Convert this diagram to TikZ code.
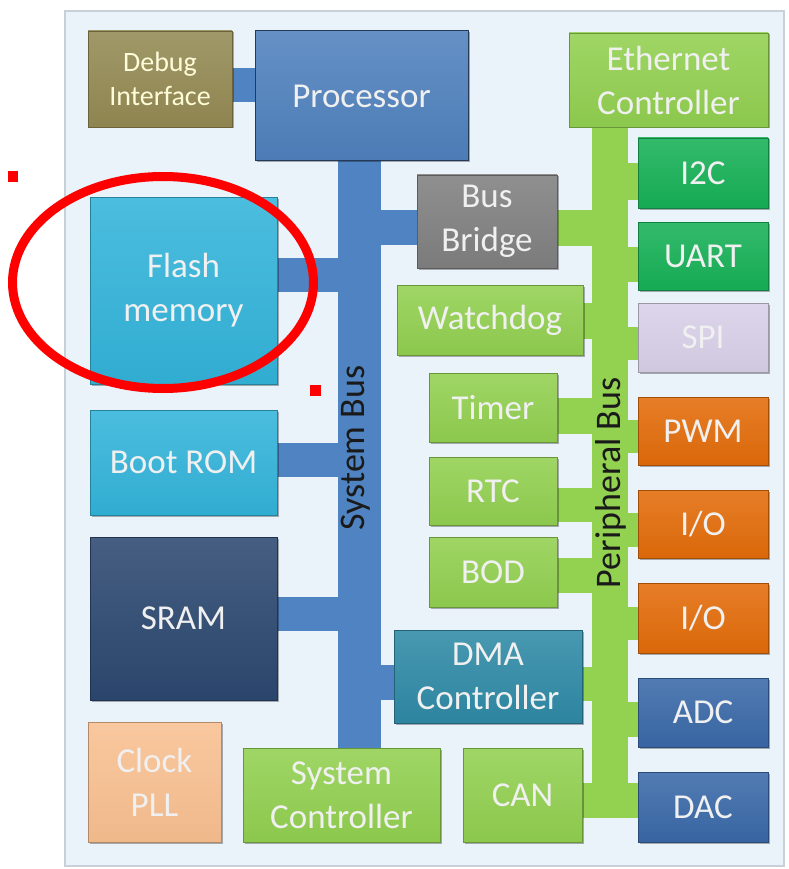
\documentclass[tikz,border=0pt]{standalone}
\usepackage{fontspec}
\setmainfont{Carlito}
\usetikzlibrary{shadows,backgrounds}
\definecolor{panel}{HTML}{EAF2FA}
\definecolor{panelline}{HTML}{C9D0D8}
\definecolor{busblue}{HTML}{5083C1}
\definecolor{busgreen}{HTML}{93D151}
\definecolor{procc}{HTML}{4F81BD}
\definecolor{debugc}{HTML}{948A54}
\definecolor{flashc}{HTML}{33B4DA}
\definecolor{sramc}{HTML}{2C4870}
\definecolor{clockc}{HTML}{F9C091}
\definecolor{greenc}{HTML}{92D050}
\definecolor{darkgreenc}{HTML}{17B157}
\definecolor{greyc}{HTML}{808080}
\definecolor{spic}{HTML}{D8D0E8}
\definecolor{orangec}{HTML}{E36C0A}
\definecolor{adcc}{HTML}{3A69A8}
\definecolor{dmac}{HTML}{2F8AA6}
\definecolor{labelc}{HTML}{1A1A1A}
\begin{document}
\begin{tikzpicture}[x=1pt,y=-1pt,
  blk/.style={rectangle, draw=#1!72!black, line width=0.6pt,
    top color=#1!88!white, bottom color=#1!96!black,
    text=white!94!black, font=\fontsize{35}{44}\selectfont, align=center,
    inner sep=0pt,
    drop shadow={shadow xshift=1.5pt, shadow yshift=-1.5pt, opacity=0.3, fill=black}},
  sz/.style 2 args={minimum width=#1pt, minimum height=#2pt},
  busbar/.style={rectangle, fill=#1, inner sep=0pt, draw=none},
  blink/.style={draw=busblue, line width=#1},
  glink/.style={draw=busgreen, line width=#1},
  buslabel/.style={rotate=90, text=labelc, font=\fontsize{36}{40}\selectfont, inner sep=0pt}
]
\useasboundingbox (0,0) rectangle (788,869);

% boxes
\node[blk=debugc, sz={144}{96}, font=\fontsize{28}{34}\selectfont, text=white!85!yellow] (debug) at (160,79) {Debug\\Interface};
\node[blk=procc, sz={213}{130}, draw=procc!45!black, line width=1pt] (proc) at (361.5,96) {Processor};
\node[blk=flashc, sz={187}{187}] (flash) at (183.5,290.5) {Flash\\memory};
\node[blk=flashc, sz={187}{105}] (boot) at (183.5,462.5) {Boot ROM};
\node[blk=sramc, sz={187}{163}] (sram) at (183.5,618.5) {SRAM};
\node[blk=clockc, sz={133}{120}] (clock) at (154.5,782) {Clock\\PLL};
\node[blk=greenc, sz={197}{94}] (sysctl) at (341.5,795) {System\\Controller};
\node[blk=greyc, sz={140}{93}] (bridge) at (487,221.5) {Bus\\Bridge};
\node[blk=greenc, sz={186}{70}] (watchdog) at (490,320) {Watchdog};
\node[blk=greenc, sz={128}{69}] (timer) at (493,407.5) {Timer};
\node[blk=greenc, sz={128}{68}] (rtc) at (493,491) {RTC};
\node[blk=greenc, sz={128}{70}] (bod) at (493,572) {BOD};
\node[blk=dmac, sz={188}{93}] (dma) at (488,676.5) {DMA\\Controller};
\node[blk=greenc, sz={119}{94}] (can) at (522.5,795) {CAN};
\node[blk=greenc, sz={199}{94}] (eth) at (668.5,80) {Ethernet\\Controller};
\node[blk=darkgreenc, sz={130}{70}] (i2c) at (703,173) {I2C};
\node[blk=darkgreenc, sz={130}{68}] (uart) at (703,256) {UART};
\node[blk=spic, sz={130}{69}] (spi) at (703,337.5) {SPI};
\node[blk=orangec, sz={130}{68}] (pwm) at (703,431) {PWM};
\node[blk=orangec, sz={130}{68}] (ioa) at (703,524) {I/O};
\node[blk=orangec, sz={130}{70}] (iob) at (703,618) {I/O};
\node[blk=adcc, sz={130}{69}] (adc) at (703,712.5) {ADC};
\node[blk=adcc, sz={130}{70}] (dac) at (703,807) {DAC};

\begin{scope}[on background layer]
% panel
\node[rectangle, fill=panel, draw=panelline, line width=1.2pt, inner sep=0pt,
  minimum width=719pt, minimum height=855pt] (panelbox) at (424.5,438.5) {};
% buses
\node[busbar=busblue, sz={43}{588}] (sysbus) at (359.5,454) {};
\node[busbar=busgreen, sz={36}{698}] (perbus) at (610,469) {};

% system bus connectors
\draw[blink=34pt] (debug.east |- 0,85) -- (proc.west |- 0,85);
\draw[blink=34pt] (flash.east |- 0,275) -- (sysbus.center |- 0,275);
\draw[blink=34pt] (boot.east |- 0,460) -- (sysbus.center |- 0,460);
\draw[blink=34pt] (sram.east |- 0,614) -- (sysbus.center |- 0,614);
\draw[blink=35pt] (sysbus.center |- 0,227.5) -- (bridge.west |- 0,227.5);
\draw[blink=35pt] (sysbus.center |- 0,682.5) -- (dma.west |- 0,682.5);

% peripheral bus connectors
\draw[glink=36pt] (bridge.east |- 0,228) -- (perbus.center |- 0,228);
\draw[glink=36pt] (watchdog.east |- 0,321) -- (perbus.center |- 0,321);
\draw[glink=36pt] (timer.east |- 0,416) -- (perbus.center |- 0,416);
\draw[glink=34pt] (rtc.east |- 0,505) -- (perbus.center |- 0,505);
\draw[glink=35pt] (bod.east |- 0,575.5) -- (perbus.center |- 0,575.5);
\draw[glink=34pt] (dma.east |- 0,683.5) -- (perbus.center |- 0,683.5);
\draw[glink=35pt] (can.east |- 0,800.5) -- (dac.west |- 0,800.5);
\draw[glink=36pt] (perbus.center |- 0,181.5) -- (i2c.west |- 0,181.5);
\draw[glink=35pt] (perbus.center |- 0,264.5) -- (uart.west |- 0,264.5);
\draw[glink=33pt] (perbus.center |- 0,343.5) -- (spi.west |- 0,343.5);
\draw[glink=33pt] (perbus.center |- 0,436.5) -- (pwm.west |- 0,436.5);
\draw[glink=34pt] (perbus.center |- 0,530) -- (ioa.west |- 0,530);
\draw[glink=33pt] (perbus.center |- 0,623.5) -- (iob.west |- 0,623.5);
\draw[glink=35pt] (perbus.center |- 0,719.5) -- (adc.west |- 0,719.5);
\end{scope}

% bus labels
\node[buslabel] (syslbl) at (356,448) {System Bus};
\node[buslabel] (perlbl) at (611,483) {Peripheral Bus};

% red annotations
\draw[red, line width=9pt] (163,282.5) ellipse [x radius=150.5pt, y radius=106pt];
\fill[red] (8,171) rectangle (18,182);
\fill[red] (310,385) rectangle (321,396);
\end{tikzpicture}
\end{document}
